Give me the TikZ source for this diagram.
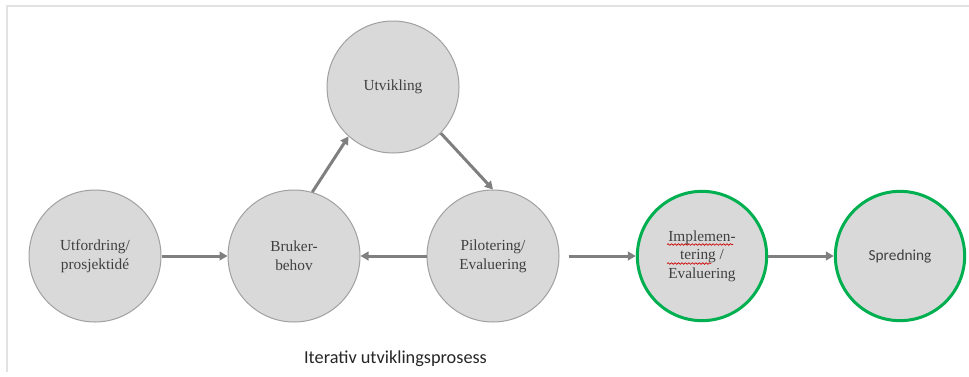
\documentclass[tikz,border=0pt]{standalone}
\usepackage{fontspec}
\setmainfont{Liberation Serif}
\newfontfamily\calibri{Carlito}
\usetikzlibrary{arrows.meta,decorations.pathmorphing}

\definecolor{sirkelgraa}{HTML}{D9D9D9}
\definecolor{kantgraa}{HTML}{A0A0A0}
\definecolor{pilgraa}{HTML}{7F7F7F}
\definecolor{tekstgraa}{HTML}{404040}
\definecolor{groenn}{HTML}{00B050}
\definecolor{rammegraa}{HTML}{E2E2E2}

\tikzset{
  sirkel/.style={circle,fill=sirkelgraa,draw=kantgraa,line width=0.75pt,
    minimum size=99pt,inner sep=0pt,align=center,text=tekstgraa,
    font=\fontsize{11.5}{14}\selectfont},
  grsirkel/.style={sirkel,draw=groenn,line width=2.25pt,minimum size=97pt},
  pil/.style={draw=pilgraa,line width=2.25pt,-{Triangle[length=6pt,width=6.5pt]}},
  stave/.style={draw=red!80!black,line width=0.5pt,
    decorate,decoration={snake,amplitude=0.6pt,segment length=2.6pt}}
}

\begin{document}
\begin{tikzpicture}[x=0.75pt,y=0.75pt]
  \useasboundingbox (0,0) rectangle (969,376);

  % ramme
  \draw[rammegraa,line width=1.2pt] (7,4) -- (7,370) -- (969,370);

  % sirkler
  \node[sirkel] (utf) at (95,120) {Utfordring/\\prosjektidé};
  \node[sirkel] (bru) at (294,120) {Bruker-\\behov};
  \node[sirkel] (utv) at (393,289) {Utvikling};
  \node[sirkel] (pil) at (493,120) {Pilotering/\\Evaluering};
  \node[grsirkel] (imp) at (702,120) {Implemen-\\tering /\\Evaluering};
  \node[grsirkel,font=\calibri\fontsize{11.5}{14}\selectfont] (spr) at (900,120) {Spredning};

  % stavekontroll
  \draw[stave] (667,131.5) -- (733,131.5);
  \draw[stave] (667,112.5) -- (711,112.5);

  % piler
  \draw[pil] (utf) -- (bru);
  \draw[pil] (bru.74) -- (utv.228);
  \draw[pil] (utv.-44) -- (pil.90);
  \draw[pil] (pil) -- (bru);
  \draw[pil,shorten <=6.75pt] (pil) -- (imp);
  \draw[pil] (imp) -- (spr);

  % tittel
  \node[font=\calibri\fontsize{13.7}{16}\selectfont,text=black!85] (tittel) at (395.5,17.5) {Iterativ utviklingsprosess};
\end{tikzpicture}
\end{document}
